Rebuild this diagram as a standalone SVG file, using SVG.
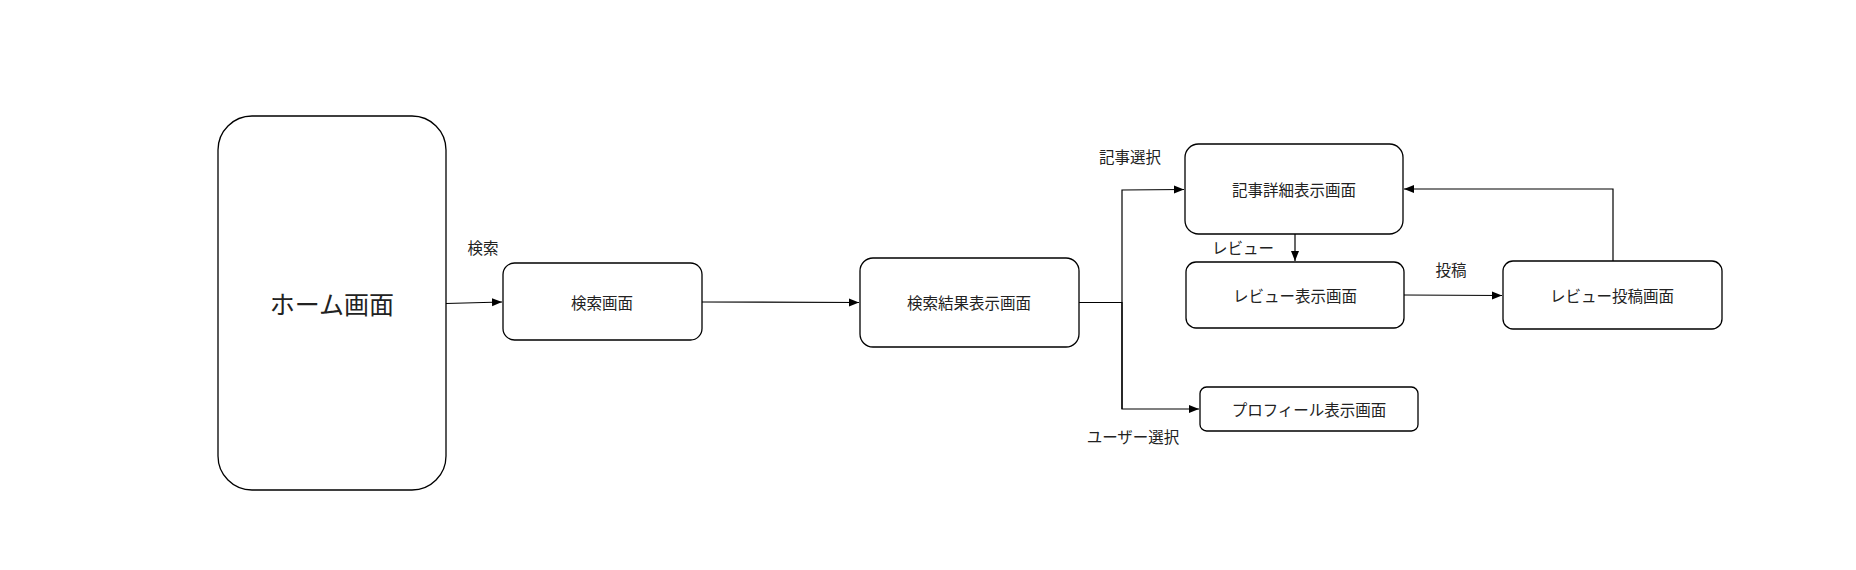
<svg xmlns="http://www.w3.org/2000/svg" width="1856" height="570" viewBox="0 0 1856 570">
<style>
.box{fill:#fff;stroke:#000;stroke-width:1.3}
.t{font-family:"Noto Sans CJK JP","Liberation Sans",sans-serif;font-size:15.5px;fill:#222;text-anchor:middle;dominant-baseline:central}
.big{font-size:25px}
.e{fill:none;stroke:#000;stroke-width:1.2}
</style>
<defs>
<marker id="arr" markerUnits="userSpaceOnUse" markerWidth="10" markerHeight="10" viewBox="0 0 10 10" refX="10" refY="5" orient="auto">
<path d="M0,1 L10,5 L0,9 Z" fill="#000"/>
</marker>
</defs>
<rect width="1856" height="570" fill="#fff"/>
<g id="connectors">
<path class="e" d="M446,303.5 L502,302" marker-end="url(#arr)"/>
<path class="e" d="M702,302 L859,302.5" marker-end="url(#arr)"/>
<path class="e" d="M1079,302.5 L1122,302.5"/>
<path class="e" d="M1122,409 L1122,190 L1184,189.5" marker-end="url(#arr)"/>
<path class="e" d="M1122,302 L1122,409 L1199,409" marker-end="url(#arr)"/>
<path class="e" d="M1295,234 L1295,261" marker-end="url(#arr)"/>
<path class="e" d="M1404,295 L1502,295.5" marker-end="url(#arr)"/>
<path class="e" d="M1613,261 L1613,189 L1404,189" marker-end="url(#arr)"/>
<text class="t" x="483" y="247">検索</text>
<text class="t" x="1130" y="156">記事選択</text>
<text class="t" x="1133" y="436">ユーザー選択</text>
<text class="t" x="1243" y="247">レビュー</text>
<text class="t" x="1451" y="269">投稿</text>
</g>
<g id="home"><rect class="box" x="218" y="116" width="228" height="374" rx="34"/><text class="t big" x="332" y="303">ホーム画面</text></g>
<g id="search"><rect class="box" x="503" y="263" width="199" height="77" rx="11.5"/><text class="t" x="602" y="302">検索画面</text></g>
<g id="results"><rect class="box" x="860" y="258" width="219" height="89" rx="13"/><text class="t" x="969" y="302">検索結果表示画面</text></g>
<g id="article"><rect class="box" x="1185" y="144" width="218" height="90" rx="13.5"/><text class="t" x="1294" y="189">記事詳細表示画面</text></g>
<g id="review"><rect class="box" x="1186" y="262" width="218" height="66" rx="10"/><text class="t" x="1295" y="295">レビュー表示画面</text></g>
<g id="reviewpost"><rect class="box" x="1503" y="261" width="219" height="68" rx="10"/><text class="t" x="1612" y="295">レビュー投稿画面</text></g>
<g id="profile"><rect class="box" x="1200" y="387" width="218" height="44" rx="6.6"/><text class="t" x="1309" y="409">プロフィール表示画面</text></g>
</svg>
